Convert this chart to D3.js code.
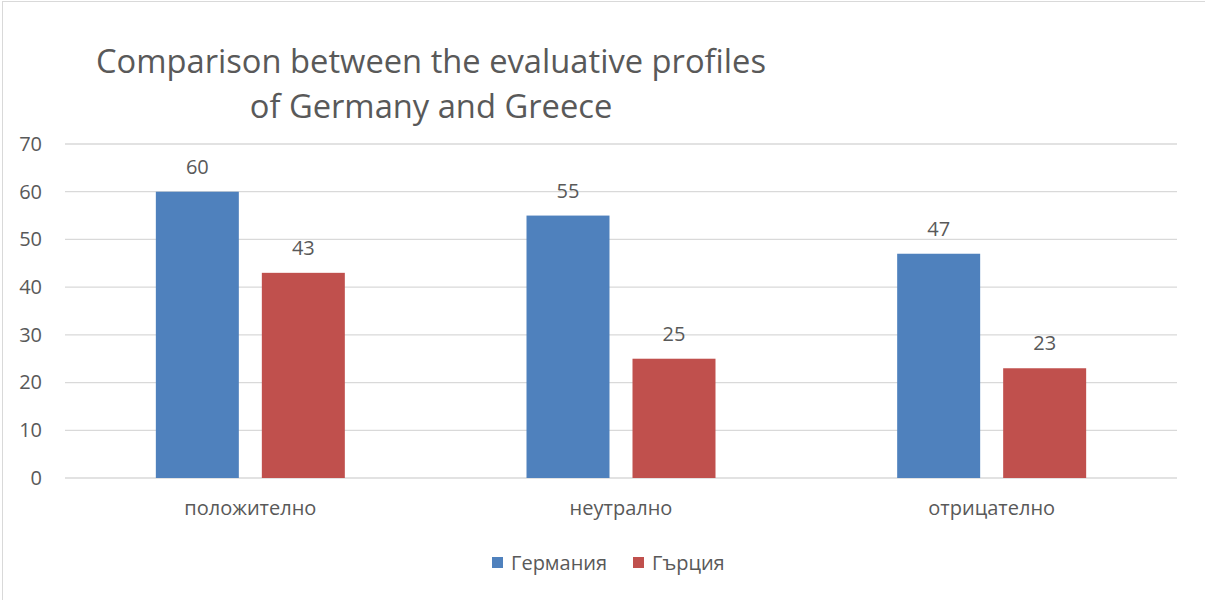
<!DOCTYPE html>
<html>
<head>
<meta charset="utf-8">
<script src="https://cdn.jsdelivr.net/npm/d3@7"></script>
<style>
  body { margin: 0; background: #fff; }
  text { font-family: "Open Sans", "Noto Sans", sans-serif; fill: #595959; }
</style>
</head>
<body>
<svg id="chart" width="1205" height="600"></svg>
<script>
"use strict";

// Chart data
var categories = ["положително", "неутрално", "отрицателно"];
var seriesNames = ["Германия", "Гърция"];
var germany = [60, 55, 47];
var greece = [43, 25, 23];
var yTicks = [0, 10, 20, 30, 40, 50, 60, 70];
var titleLines = ["Comparison between the evaluative profiles", "of Germany and Greece"];

var colors = ["#4f81bd", "#c0504d"];
var seriesValues = [germany, greece];
var labelSize = "20px";

var svg = d3.select("#chart");

// Outer chart border
svg.append("rect")
  .attr("x", 2.5).attr("y", 1.5)
  .attr("width", 1205).attr("height", 610)
  .attr("fill", "none")
  .attr("stroke", "#d9d9d9");

var margin = {left: 65, right: 28, top: 144, bottom: 122};
var width = 1205 - margin.left - margin.right,
    height = 600 - margin.top - margin.bottom;

var g = svg.append("g").attr("transform", "translate(" + margin.left + "," + margin.top + ")");

var x0 = d3.scaleBand().domain(categories).range([0, width]).padding(0);
var x1 = d3.scaleBand().domain(seriesNames).range([0, x0.bandwidth()])
  .paddingInner(0.217).paddingOuter(0.857);
var y = d3.scaleLinear().domain([0, 70]).range([height, 0]);

// Gridlines
g.selectAll(".grid")
  .data(yTicks)
  .enter().append("line")
  .attr("x1", 0).attr("x2", width)
  .attr("y1", function(d) { return y(d); })
  .attr("y2", function(d) { return y(d); })
  .attr("stroke", "#d9d9d9")
  .attr("stroke-width", 1.3);

// Y axis labels
var yAxis = g.append("g")
  .call(d3.axisLeft(y).tickValues(yTicks).tickSize(0).tickPadding(23));
yAxis.select(".domain").remove();
yAxis.selectAll("text")
  .attr("font-size", labelSize)
  .style("font-family", "'Open Sans', sans-serif")
  .attr("fill", "#595959");

// X axis labels
var xAxis = g.append("g")
  .attr("transform", "translate(0," + height + ")")
  .call(d3.axisBottom(x0).tickSize(0).tickPadding(23));
xAxis.select(".domain").remove();
xAxis.selectAll("text")
  .attr("font-size", labelSize)
  .style("font-family", "'Open Sans', sans-serif")
  .attr("fill", "#595959");

// Bars
var groups = g.selectAll(".cat")
  .data(categories)
  .enter().append("g")
  .attr("class", "cat")
  .attr("transform", function(d) { return "translate(" + x0(d) + ",0)"; });

groups.selectAll("rect")
  .data(function(d, i) {
    return seriesNames.map(function(s, j) { return {series: s, value: seriesValues[j][i], idx: j}; });
  })
  .enter().append("rect")
  .attr("x", function(d) { return x1(d.series); })
  .attr("y", function(d) { return y(d.value); })
  .attr("width", x1.bandwidth())
  .attr("height", function(d) { return height - y(d.value); })
  .attr("fill", function(d) { return colors[d.idx]; });

groups.selectAll(".label")
  .data(function(d, i) {
    return seriesNames.map(function(s, j) { return {series: s, value: seriesValues[j][i]}; });
  })
  .enter().append("text")
  .attr("class", "label")
  .attr("x", function(d) { return x1(d.series) + x1.bandwidth() / 2; })
  .attr("y", function(d) { return y(d.value) - 18; })
  .attr("text-anchor", "middle")
  .attr("font-size", labelSize)
  .text(function(d) { return d.value; });

// Title
svg.append("g").selectAll("text")
  .data(titleLines)
  .enter().append("text")
  .attr("x", 431)
  .attr("y", function(d, i) { return 73 + i * 45; })
  .attr("text-anchor", "middle")
  .attr("font-size", "32.7px")
  .text(function(d) { return d; });

// Legend
var legend = svg.append("g").attr("transform", "translate(492,563)");
var legendX = [0, 141];
var items = legend.selectAll(".item")
  .data(seriesNames)
  .enter().append("g")
  .attr("transform", function(d, i) { return "translate(" + legendX[i] + ",0)"; });
items.append("rect")
  .attr("x", 0).attr("y", -6)
  .attr("width", 11).attr("height", 11)
  .attr("fill", function(d, i) { return colors[i]; });
items.append("text")
  .attr("x", 19).attr("y", 7)
  .attr("font-size", labelSize)
  .text(function(d) { return d; });
</script>
</body>
</html>
